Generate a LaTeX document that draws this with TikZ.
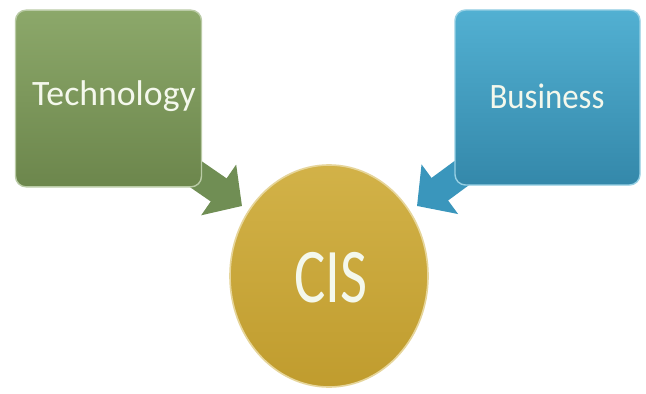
\documentclass[tikz,border=0pt]{standalone}
\usepackage{fontspec}
\setmainfont{Carlito}
\usetikzlibrary{shapes.geometric,arrows.meta}
\pgfdeclarelayer{bg}
\pgfsetlayers{bg,main}
\definecolor{gtop}{RGB}{140,168,106}
\definecolor{gbot}{RGB}{108,134,76}
\definecolor{garrow}{RGB}{112,142,84}
\definecolor{btop}{RGB}{82,176,210}
\definecolor{bbot}{RGB}{52,136,170}
\definecolor{barrow}{RGB}{58,150,188}
\definecolor{ytop}{RGB}{210,178,72}
\definecolor{ybot}{RGB}{192,156,46}
\definecolor{txt}{RGB}{244,248,236}
\tikzset{
  px/.style={x=0.03cm,y=-0.03cm},
  box/.style={rectangle, rounded corners=9pt, line width=1.2pt, text=txt,
    font=\fontsize{30.5}{34}\selectfont},
  techbox/.style={box, draw=gtop!60!white, top color=gtop, bottom color=gbot,
    minimum width=5.58cm, minimum height=5.3cm},
  bizbox/.style={box, draw=btop!60!white, top color=btop, bottom color=bbot,
    minimum width=5.55cm, minimum height=5.25cm},
  cisnode/.style={ellipse, draw=ytop!55!white, line width=1.4pt,
    top color=ytop, bottom color=ybot, minimum width=5.94cm, minimum height=6.66cm,
    inner sep=0pt},
  blockarrow/.style={line width=0.84cm, -{Triangle[width=1.8cm,length=0.85cm]}},
}
\begin{document}
\begin{tikzpicture}[px]
\path[use as bounding box] (0,0) rectangle (646,394);
\node[techbox] (tech) at (108.5,98.5) {};
\node[text=txt, font=\fontsize{30.5}{34}\selectfont] (techtxt) at (114,96) {Technology};
\node[bizbox] (biz) at (547.5,97.5) {};
\node[text=txt, font=\fontsize{30.5}{34}\selectfont, xscale=0.92] (biztxt) at (547,96) {Business};
\node[cisnode] (cis) at (329,276) {};
\node[text=txt, font=\fontsize{66}{70}\selectfont, xscale=0.76] (cistxt) at (331,278) {CIS};
\coordinate (gtip) at (242,206);
\coordinate (btip) at (417,206);
\begin{pgfonlayer}{bg}
\fill[white] (0,0) rectangle (646,394);
\draw[blockarrow, garrow] ([shift={(-16,-20)}]tech.south east) -- (gtip);
\draw[blockarrow, barrow] ([shift={(12,-16)}]biz.south west) -- (btip);
\end{pgfonlayer}
\end{tikzpicture}
\end{document}
